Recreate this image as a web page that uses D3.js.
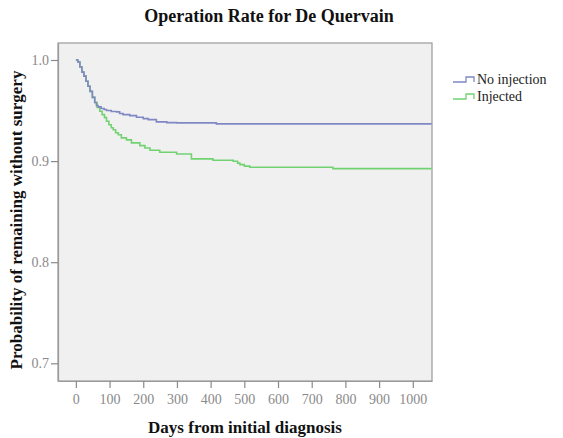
<!DOCTYPE html>
<html>
<head>
<meta charset="utf-8">
<script src="https://cdn.jsdelivr.net/npm/d3@7"></script>
<style>
html,body{margin:0;padding:0;background:#fff;}
svg{display:block;}
</style>
</head>
<body>
<svg id="chart" width="563" height="438"></svg>
<script>
// ---- data ----
const seriesNames = ["No injection", "Injected"];
const noInjDays = [0, 6, 12, 18, 24, 30, 36, 42, 49, 56, 61, 66, 75, 84, 91, 105, 121, 130, 140, 160, 180, 200, 215, 239, 270, 299, 417, 1056];
const noInjSurv = [1.0, 0.998, 0.993, 0.988, 0.984, 0.979, 0.974, 0.969, 0.963, 0.958, 0.955, 0.9536, 0.952, 0.951, 0.950, 0.949, 0.9487, 0.947, 0.946, 0.945, 0.9434, 0.942, 0.941, 0.9388, 0.938, 0.9378, 0.9368, 0.9368];
const injDays = [0, 6, 12, 18, 24, 30, 36, 42, 49, 56, 63, 71, 78, 85, 91, 98, 105, 111, 118, 126, 135, 150, 165, 190, 205, 220, 249, 299, 343, 407, 467, 480, 487, 500, 516, 763, 1056];
const injSurv = [1.0, 0.998, 0.993, 0.988, 0.984, 0.979, 0.974, 0.969, 0.963, 0.958, 0.953, 0.9493, 0.946, 0.943, 0.9394, 0.936, 0.933, 0.931, 0.928, 0.926, 0.923, 0.921, 0.918, 0.9153, 0.913, 0.9107, 0.9087, 0.907, 0.9022, 0.9008, 0.8998, 0.898, 0.8965, 0.895, 0.8939, 0.8926, 0.8926];
const xTicks = [0, 100, 200, 300, 400, 500, 600, 700, 800, 900, 1000];
const yTicks = [0.7, 0.8, 0.9, 1.0];

// ---- layout ----
const svg = d3.select("#chart");
const L = 58, R = 432, T = 43, B = 381;
const x = d3.scaleLinear().domain([-53, 1057]).range([L, R]);
const y = d3.scaleLinear().domain([0.6825, 1.0168]).range([B, T]);
const colors = ["#8088c4", "#72d272"];
const serif = "'Liberation Serif','Times New Roman',serif";

svg.append("rect").attr("x", L).attr("y", T).attr("width", R - L).attr("height", B - T)
  .attr("fill", "#f0f0f0").attr("stroke", "#9a9a9a").attr("stroke-width", 1.2);

// axes
const yAxis = d3.axisLeft(y).tickValues(yTicks).tickFormat(d3.format(".1f")).tickSizeInner(7).tickSizeOuter(0).tickPadding(2);
const gy = svg.append("g").attr("transform", `translate(${L},0)`).call(yAxis);
gy.select(".domain").attr("stroke", "#9a9a9a").attr("stroke-width", 1.2);
gy.selectAll(".tick line").attr("stroke", "#8a8a8a").attr("stroke-width", 1.2);
gy.selectAll(".tick text").attr("fill", "#8a8a8a").style("font-family", serif).style("font-size", "14px");

const xAxis = d3.axisBottom(x).tickValues(xTicks).tickFormat(d3.format("d")).tickSizeInner(7).tickSizeOuter(0).tickPadding(6);
const gx = svg.append("g").attr("transform", `translate(0,${B})`).call(xAxis);
gx.select(".domain").attr("stroke", "#9a9a9a").attr("stroke-width", 1.2);
gx.selectAll(".tick line").attr("stroke", "#8a8a8a").attr("stroke-width", 1.2);
gx.selectAll(".tick text").attr("fill", "#8a8a8a").style("font-family", serif).style("font-size", "14px");

// curves
const seriesData = [
  noInjDays.map((d, i) => [d, noInjSurv[i]]),
  injDays.map((d, i) => [d, injSurv[i]])
];
const line = d3.line().x(d => x(d[0])).y(d => y(d[1])).curve(d3.curveStepAfter);
[1, 0].forEach(i => {
  svg.append("path").attr("d", line(seriesData[i])).attr("fill", "none")
    .attr("stroke", colors[i]).attr("stroke-width", 1.6);
});

// titles
svg.append("text").attr("x", 269).attr("y", 22).attr("text-anchor", "middle")
  .style("font-family", serif).style("font-weight", "bold").style("font-size", "18px").attr("fill", "#111")
  .text("Operation Rate for De Quervain");
svg.append("text").attr("x", (L + R) / 2).attr("y", 433).attr("text-anchor", "middle")
  .style("font-family", serif).style("font-weight", "bold").style("font-size", "17px").attr("fill", "#111")
  .text("Days from initial diagnosis");
svg.append("text").attr("transform", `translate(22,${(T + B) / 2 + 8}) rotate(-90)`).attr("text-anchor", "middle")
  .style("font-family", serif).style("font-weight", "bold").style("font-size", "17px").attr("fill", "#111")
  .text("Probability of remaining without surgery");

// legend
seriesNames.forEach((name, i) => {
  const ly = 82 + i * 17;
  svg.append("path").attr("d", `M453,${ly} H466 V${ly - 5} H474 V${ly}`)
    .attr("fill", "none").attr("stroke", colors[i]).attr("stroke-width", 1.3);
  svg.append("text").attr("x", 477).attr("y", ly + 2)
    .style("font-family", serif).style("font-size", "14px").attr("fill", "#222").text(name);
});
</script>
</body>
</html>
